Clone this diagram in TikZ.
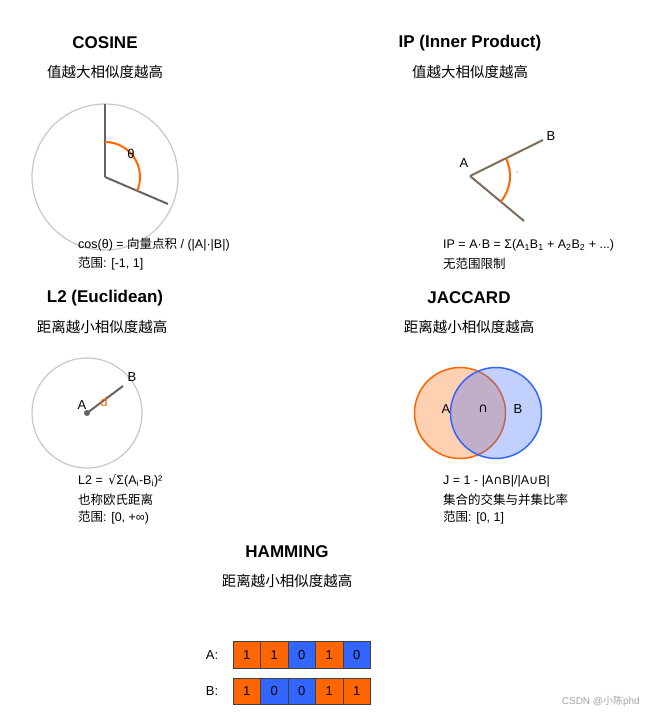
\documentclass[tikz,border=0pt]{standalone}
\usepackage{fontspec}
\setmainfont{Liberation Sans}
\newfontfamily\cjk{Noto Sans CJK SC}
\newfontfamily\symf{DejaVu Sans}
\definecolor{org}{RGB}{255,102,0}
\definecolor{blu}{RGB}{51,102,255}
\definecolor{lgray}{RGB}{200,200,200}
\definecolor{dgray}{RGB}{100,100,100}
\definecolor{brn}{RGB}{125,110,95}
\tikzset{
  ttl/.style={font=\bfseries\fontsize{17}{20}\selectfont, anchor=center},
  sub/.style={font=\cjk\fontsize{14.5}{17}\selectfont, anchor=center},
  info/.style={font=\fontsize{12.5}{15}\selectfont, anchor=west, inner sep=0pt},
  lbl/.style={font=\fontsize{13}{15}\selectfont, inner sep=0pt},
  ring/.style={draw=lgray, line width=1.2pt},
  vec/.style={draw=dgray, line width=2pt},
  cell/.style={draw=black!75, line width=0.8pt, minimum width=27.5pt, minimum height=26.5pt, inner sep=0pt, font=\fontsize{13}{15}\selectfont, anchor=north west},
}
\begin{document}
\begin{tikzpicture}[x=1pt,y=-1pt]
\useasboundingbox (0,0) rectangle (651,714);
\fill[white] (0,0) rectangle (651,714);

% ---------- COSINE ----------
\node[ttl] (cosT) at (105,43) {COSINE};
\node[sub] (cosS) at (105,72) {值越大相似度越高};
\draw[ring] (105,177) circle (73);
\coordinate (cO) at (105,177);
\coordinate (cA) at (105,104);
\coordinate (cB) at (168,204);
\draw[vec] (cO) -- (cA);
\draw[vec] (cO) -- (cB);
\draw[org, line width=2pt] (105,142) arc[start angle=-90, end angle=23.2, radius=35];
\node[lbl] (cTh) at (131,154) {θ};
\node[info] (cosF) at (78,245) {cos(θ) = {\cjk 向量点积} / (|A|·|B|)};
\node[info] (cosR) at (78,264) {{\cjk 范围}: [-1, 1]};

% ---------- IP ----------
\node[ttl] (ipT) at (470,43) {IP (Inner Product)};
\node[sub] (ipS) at (470,72) {值越大相似度越高};
\coordinate (iO) at (470,176);
\coordinate (iB) at (543,140);
\coordinate (iC) at (524,221);
\draw[draw=brn, line width=2pt] (iO) -- (iB);
\draw[draw=brn, line width=2pt] (iO) -- (iC);
\draw[org, line width=2pt] (505.9,158.3) arc[start angle=-26.3, end angle=39.8, radius=40];
\node[lbl] (ipA) at (464,163) {A};
\node[lbl] (ipBl) at (551,136) {B};
\fill[black!70] (517,172) circle (0.7);
\node[info] (ipF) at (443,245) {IP = A·B = Σ(A\textsubscript{1}B\textsubscript{1} + A\textsubscript{2}B\textsubscript{2} + ...)};
\node[info] (ipR) at (443,264) {\cjk 无范围限制};

% ---------- L2 ----------
\node[ttl] (l2T) at (105,298) {L2 (Euclidean)};
\node[sub] (l2S) at (102,327) {距离越小相似度越高};
\draw[ring] (87,413) circle (55);
\coordinate (lA) at (87,413);
\coordinate (lB) at (123,386);
\draw[vec] (lA) -- (lB);
\fill[dgray] (lA) circle (3);
\node[lbl] (l2A) at (82,405) {A};
\node[lbl] (l2B) at (132,377) {B};
\node[lbl, text=org] (l2d) at (104,402) {d};
\node[info] (l2F) at (78,481) {L2 = \,{\symf √}Σ(A\textsubscript{i}-B\textsubscript{i})²};
\node[info] (l2N) at (78,500) {\cjk 也称欧氏距离};
\node[info] (l2R) at (78,518) {{\cjk 范围}: [0, +∞)};

% ---------- JACCARD ----------
\node[ttl] (jT) at (469,298) {JACCARD};
\node[sub] (jS) at (469,327) {距离越小相似度越高};
\fill[org, fill opacity=0.3] (460,413) circle (45.5);
\draw[org, line width=1.5pt] (460,413) circle (45.5);
\fill[blu, fill opacity=0.3] (496,413) circle (45.5);
\draw[blu, line width=1.5pt] (496,413) circle (45.5);
\node[lbl] (jA) at (446,409) {A};
\node[lbl] (jI) at (483,409) {{\symf ∩}};
\node[lbl] (jB) at (518,409) {B};
\node[info] (jF) at (443,481) {J = 1 - |A{\symf ∩}B|/|A{\symf ∪}B|};
\node[info] (jN) at (443,500) {\cjk 集合的交集与并集比率};
\node[info] (jR) at (443,518) {{\cjk 范围}: [0, 1]};

% ---------- HAMMING ----------
\node[ttl] (hT) at (287,552) {HAMMING};
\node[sub] (hS) at (287,581) {距离越小相似度越高};
\node[lbl] (hA) at (212,655) {A:};
\node[lbl] (hB) at (212,691) {B:};
\node[cell, fill=org] (a1) at (232.7,641) {1};
\node[cell, fill=org] (a2) at (260.2,641) {1};
\node[cell, fill=blu] (a3) at (287.7,641) {0};
\node[cell, fill=org] (a4) at (315.2,641) {1};
\node[cell, fill=blu] (a5) at (342.7,641) {0};
\node[cell, fill=org] (b1) at (232.7,677.5) {1};
\node[cell, fill=blu] (b2) at (260.2,677.5) {0};
\node[cell, fill=blu] (b3) at (287.7,677.5) {0};
\node[cell, fill=org] (b4) at (315.2,677.5) {1};
\node[cell, fill=org] (b5) at (342.7,677.5) {1};

% watermark
\node[font=\fontsize{10}{12}\selectfont, text=black!35, anchor=east, inner sep=0pt] (wm) at (640,701) {CSDN @{\cjk 小陈}phd};
\end{tikzpicture}
\end{document}
